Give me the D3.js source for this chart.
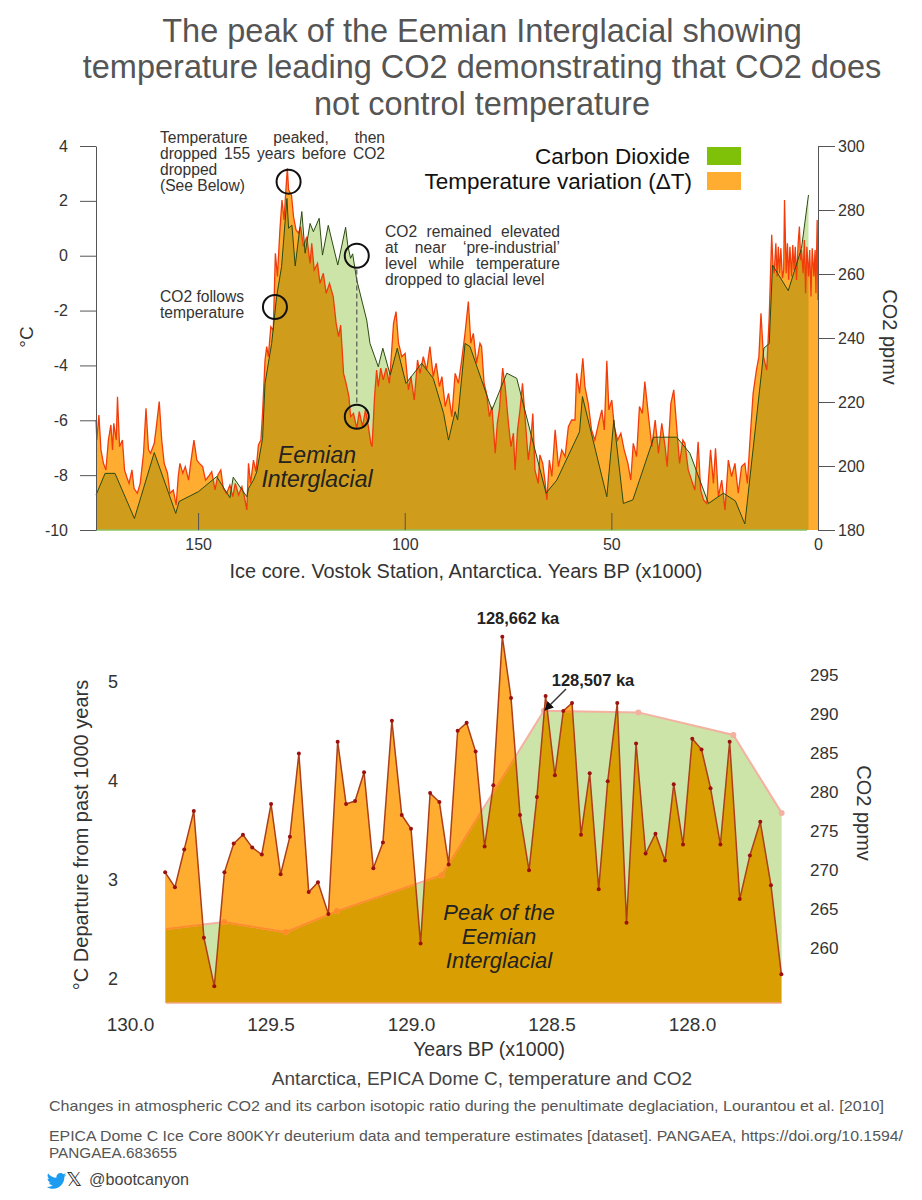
<!DOCTYPE html>
<html>
<head>
<meta charset="utf-8">
<script src="https://cdn.jsdelivr.net/npm/d3@7"></script>
<style>
  html, body { margin: 0; background: #fff; }
  svg { display: block; }
  text { font-family: "Liberation Sans", Arial, sans-serif; }
</style>
</head>
<body>
<svg id="chart" width="922" height="1200"></svg>
<script>
// Vostok panel
const vostokTempAge = [174.7,174.5,174.0,173.5,172.9,172.3,171.7,171.1,170.7,170.4,169.8,169.5,169.0,168.3,167.8,167.3,166.7,166.0,165.5,164.7,164.0,163.2,162.6,162.0,161.5,160.6,160.0,159.4,158.8,158.2,157.4,156.8,156.0,155.3,154.8,154.4,153.7,153.1,152.3,151.8,151.0,150.3,149.7,148.9,148.2,147.5,146.7,145.9,145.2,144.5,143.9,143.1,142.3,141.6,141.0,140.2,139.4,138.8,138.2,137.8,137.3,136.6,136.0,135.4,134.8,134.4,133.8,133.4,133.0,132.4,131.8,131.3,130.8,130.2,129.7,129.2,128.7,128.4,128.1,127.4,126.9,126.3,125.7,125.2,124.5,123.7,122.9,122.5,121.9,121.1,120.5,119.7,119.0,118.2,117.3,116.6,116.0,115.5,114.8,114.2,113.5,113.1,112.4,111.6,111.0,110.2,109.5,108.8,108.2,107.9,107.3,106.8,106.4,105.8,105.2,104.5,103.7,102.7,102.1,101.5,100.7,99.9,99.1,98.5,97.7,96.9,96.3,95.5,94.7,93.9,93.1,92.4,91.6,91.0,90.2,89.4,88.6,87.8,87.0,86.2,85.4,84.6,84.0,83.4,82.6,81.8,81.4,80.8,80.2,79.5,78.9,78.1,77.6,77.1,76.3,75.7,74.9,74.3,73.7,73.3,72.7,72.1,71.5,70.9,70.1,69.5,69.0,68.5,67.7,67.3,66.6,66.0,65.6,65.0,64.4,63.6,62.8,62.0,61.2,60.4,59.6,58.8,58.4,57.7,56.9,56.4,55.6,54.8,54.0,53.1,52.3,51.7,51.1,50.6,49.9,49.3,48.5,47.7,46.9,46.0,45.3,44.7,43.9,43.2,42.5,41.9,41.0,40.2,39.4,38.6,37.8,37.0,36.5,35.6,34.9,34.2,33.5,32.7,32.2,31.4,30.6,29.8,29.0,28.4,27.7,26.9,26.0,25.3,24.8,24.1,23.3,22.5,21.7,20.9,20.1,19.3,18.5,17.7,17.1,16.5,15.7,14.9,14.3,13.8,13.2,12.4,11.8,11.2,10.9,10.6,10.2,9.9,9.6,9.3,9.0,8.6,8.3,8.1,7.7,7.4,7.1,6.8,6.4,6.1,5.8,5.5,5.2,4.8,4.5,4.2,4.0,3.6,3.3,3.0,2.7,2.3,2.0,1.7,1.4,1.0,0.7,0.5,0.2,0];
const vostokTemp = [-5.99,-6.72,-5.81,-7.08,-7.57,-7.81,-6.72,-6.17,-7.08,-6.11,-6.72,-5.14,-6.96,-6.72,-7.81,-8.05,-8.30,-7.81,-8.48,-8.66,-8.30,-7.20,-5.56,-7.08,-7.20,-6.84,-6.11,-5.32,-6.72,-7.57,-7.93,-8.66,-8.54,-9.09,-8.05,-7.57,-7.93,-7.69,-8.18,-7.57,-6.72,-7.45,-7.57,-7.69,-8.18,-8.05,-7.87,-8.54,-7.99,-7.81,-8.48,-8.66,-8.36,-8.78,-8.30,-8.72,-8.42,-8.78,-9.27,-7.57,-8.30,-7.45,-7.87,-6.90,-6.72,-5.75,-3.80,-3.31,-3.68,-2.59,-2.71,0.09,-0.76,0.94,2.03,1.30,2.52,3.19,2.40,2.21,1.42,0.94,0.82,1.06,0.33,0.69,-0.28,0.45,-0.52,-0.28,-1.01,-0.64,-1.37,-1.01,-1.49,-2.46,-2.95,-2.53,-4.29,-4.65,-5.14,-5.87,-5.75,-6.29,-5.68,-6.23,-5.62,-6.23,-6.84,-6.96,-5.14,-4.17,-4.77,-4.10,-4.53,-4.10,-4.65,-2.46,-2.04,-3.19,-3.68,-3.56,-4.89,-4.41,-5.26,-3.80,-4.29,-3.68,-4.17,-3.31,-4.41,-3.92,-4.77,-4.41,-5.50,-5.02,-5.87,-4.29,-4.65,-3.80,-2.83,-1.67,-3.19,-2.83,-3.92,-3.19,-3.31,-4.65,-5.02,-5.87,-5.50,-7.20,-6.11,-5.62,-4.10,-4.77,-6.11,-6.96,-6.47,-7.81,-6.35,-5.62,-4.65,-5.87,-7.45,-6.72,-5.75,-7.81,-8.30,-7.26,-7.57,-8.30,-8.90,-7.45,-8.05,-6.35,-7.69,-7.08,-7.32,-6.23,-5.99,-5.99,-4.29,-5.02,-3.74,-4.77,-5.38,-6.35,-6.72,-6.11,-5.62,-6.35,-3.83,-5.62,-5.26,-6.23,-6.72,-6.47,-7.08,-7.57,-8.18,-6.84,-7.32,-5.50,-5.75,-4.59,-5.87,-6.96,-5.99,-7.20,-6.11,-6.96,-7.69,-5.38,-4.89,-6.23,-7.57,-6.72,-6.84,-7.81,-8.18,-8.54,-6.78,-8.54,-8.90,-9.03,-7.08,-8.30,-7.02,-8.78,-8.18,-9.27,-7.45,-8.05,-7.57,-8.66,-7.69,-7.57,-8.30,-6.84,-5.02,-4.17,-3.68,-2.10,-3.68,-4.17,-2.22,0.76,-0.34,-0.64,0.45,-0.76,0.33,-0.64,0.27,-0.82,-0.52,2.03,-0.64,0.45,-0.88,0.33,-0.76,0.39,-0.52,0.33,-0.88,0.45,1.06,-0.16,0.21,-0.64,0.57,-1.37,0.33,-0.76,0.21,-1.49,0.27,-0.76,0.21,-1.37,1.30,-1.61];
const vostokCo2Age = [174.7,172.5,170.1,165.4,160.6,155.4,154.6,149.9,145.5,142.3,141.5,138.2,137.8,136.6,135.8,134.4,133.8,132.2,131.0,129.8,128.5,128.1,127.3,126.5,124.9,124.1,122.9,122.1,120.7,119.9,118.5,116.2,114.3,113.8,113.1,112.6,111.6,109.2,108.4,106.4,105.3,103.5,101.8,99.7,95.9,93.1,90.6,89.4,87.8,87.2,85.4,84.2,78.9,75.3,72.9,69.3,65.8,63.2,57.7,57.0,51.1,49.4,47.1,44.8,40.2,39.8,34.2,31.0,26.5,22.9,20.0,17.7,13.6,13.1,11.8,11.0,7.2,4.0,2.3];
const vostokCo2 = [190.9,197.7,197.7,183.6,204.2,185.2,188.9,192.0,196.7,190.1,196.5,190.4,193.0,195.6,198.2,208.6,225.8,238.3,252.9,262.3,283.6,274.3,275.3,262.5,279.5,266.5,275.8,273.2,277.4,265.9,275.2,262.8,274.6,269.1,264.9,266.3,258.1,245.6,238.3,231.0,236.8,228.4,236.8,225.8,232.1,227.4,216.5,208.1,217.0,214.4,238.3,237.3,217.5,229.0,227.4,209.2,191.5,195.6,210.7,221.7,190.4,214.4,188.3,189.4,207.1,209.0,209.0,204.0,188.3,191.5,189.1,181.9,230.0,236.8,238.3,262.8,254.8,268.0,284.7];
const vostokTempTicks = [4, 2, 0, -2, -4, -6, -8, -10];
const vostokCo2Ticks = [300, 280, 260, 240, 220, 200, 180];
const vostokAgeTicks = [150, 100, 50, 0];

// EPICA panel
const domeTempAge = [129.875,129.840,129.807,129.773,129.737,129.700,129.664,129.631,129.598,129.565,129.531,129.498,129.464,129.431,129.399,129.364,129.331,129.294,129.261,129.231,129.199,129.167,129.134,129.100,129.068,129.033,129.000,128.966,128.932,128.899,128.866,128.834,128.802,128.770,128.738,128.707,128.675,128.644,128.612,128.580,128.552,128.521,128.488,128.458,128.427,128.395,128.364,128.332,128.300,128.266,128.233,128.199,128.165,128.130,128.096,128.065,128.032,127.999,127.966,127.934,127.899,127.866,127.830,127.794,127.757,127.719,127.682];
const domeTemp = [3.07,2.92,3.30,3.69,2.41,1.92,3.07,3.36,3.45,3.32,3.25,3.76,3.05,3.43,4.27,2.87,2.97,2.65,4.39,3.76,3.79,4.08,3.11,3.37,4.60,3.65,3.51,2.35,3.87,3.78,3.15,4.50,4.58,4.29,3.33,3.95,5.45,4.83,3.65,3.09,3.83,4.85,4.05,4.70,4.78,3.45,4.07,2.90,3.99,4.78,2.56,4.37,3.26,3.46,3.19,3.96,3.35,4.42,4.31,3.92,3.35,4.39,2.80,3.24,3.58,2.94,2.04];
const domeCo2Age = [129.872,129.665,129.446,129.264,128.891,128.527,128.191,127.853,127.681];
const domeCo2 = [262.4,263.3,262.0,264.7,269.3,290.4,290.2,287.3,277.3];
const domeTempTicks = [5, 4, 3, 2];
const domeCo2Ticks = [295, 290, 285, 280, 275, 270, 265, 260];
const domeAgeTicks = [130, 129.5, 129, 128.5, 128];

const titleLines = [
  "The peak of the Eemian Interglacial showing",
  "temperature leading CO2 demonstrating that CO2 does",
  "not control temperature"
];

const ORANGE = "#ffad30", PALE_GREEN = "#cde4a8";

const svg = d3.select("#chart");
const defs = svg.append("defs");

const zip = (xs, ys) => xs.map((x, i) => [x, ys[i]]);

const put = (parent, s, x, y, {size = 16, fill = "#333", anchor = "start", weight = null, style = null, rotate = 0} = {}) =>
  parent.append("text")
    .attr("transform", `translate(${x},${y})` + (rotate ? ` rotate(${rotate})` : ""))
    .attr("font-size", size)
    .attr("fill", fill)
    .attr("text-anchor", anchor)
    .attr("font-weight", weight)
    .attr("font-style", style)
    .text(s);

// stretch the word gaps so the line fills the width, like the justified notes
const justify = (sel, width) => {
  const node = sel.node();
  const gaps = sel.text().split(" ").length - 1;
  if (gaps) sel.attr("word-spacing", (width - node.getComputedTextLength()) / gaps);
};

// the footer type is narrower than anything installed
const squeeze = (sel, width) => sel.attr("textLength", width).attr("lengthAdjust", "spacingAndGlyphs");

const styleAxis = (g, size) => {
  g.selectAll("text").attr("font-size", size).attr("fill", "#333").attr("font-family", null);
  g.selectAll("line,path").attr("stroke", "#555");
};

// both panels: green area, orange area, then the overlap in the darker mix
function overlapAreas(g, id, temp, co2, x, yT, yC, overlapFill) {
  const areaT = d3.area().x((d) => x(d[0])).y0(yT.range()[0]).y1((d) => yT(d[1]));
  const areaC = d3.area().x((d) => x(d[0])).y0(yC.range()[0]).y1((d) => yC(d[1]));
  defs.append("clipPath").attr("id", id + "-co2").append("path").attr("d", areaC(co2));
  defs.append("clipPath").attr("id", id + "-temp").append("path").attr("d", areaT(temp));
  g.append("path").attr("d", areaC(co2)).attr("fill", PALE_GREEN);
  g.append("path").attr("d", areaT(temp)).attr("fill", ORANGE);
  g.append("path").attr("d", areaT(temp)).attr("fill", overlapFill).attr("clip-path", `url(#${id}-co2)`);
}

// ---------- title
titleLines.forEach((s, i) => put(svg, s, 482, [42, 78, 115][i], {size: 32.5, fill: "#555", anchor: "middle"}));

// ---------- Vostok panel
{
  const x = d3.scaleLinear().domain([174.7, 0]).range([96, 818]);
  const yT = d3.scaleLinear().domain([-10, 4]).range([530, 146]);
  const yC = d3.scaleLinear().domain([180, 300]).range([530, 146]);
  const temp = zip(vostokTempAge, vostokTemp);
  const co2 = zip(vostokCo2Age, vostokCo2);
  const g = svg.append("g");

  overlapAreas(g, "vostok", temp, co2, x, yT, yC, "#cf9c1c");

  g.append("line").attr("x1", 96).attr("x2", 807).attr("y1", 530).attr("y2", 530).attr("stroke", "#8cc060").attr("stroke-width", 1.5);
  g.append("path").attr("d", d3.line().x((d) => x(d[0])).y((d) => yT(d[1]))(temp))
    .attr("fill", "none").attr("stroke", "#f23c0c").attr("stroke-width", 1.3);
  g.append("path").attr("d", d3.line().x((d) => x(d[0])).y((d) => yC(d[1]))(co2))
    .attr("fill", "none").attr("stroke", "#2c4a12").attr("stroke-width", 1);

  g.append("g").attr("transform", "translate(96,0)")
    .call(d3.axisLeft(yT).tickValues(vostokTempTicks).tickFormat(String).tickSizeInner(16).tickSizeOuter(0).tickPadding(12))
    .call(styleAxis, 16);
  g.append("g").attr("transform", "translate(818,0)")
    .call(d3.axisRight(yC).tickValues(vostokCo2Ticks).tickFormat(String).tickSizeInner(17).tickSizeOuter(0).tickPadding(3))
    .call(styleAxis, 16);
  g.append("g").attr("transform", "translate(0,530)")
    .call(d3.axisBottom(x).tickValues(vostokAgeTicks).tickFormat(String).tickSizeInner(-17).tickSizeOuter(0).tickPadding(9))
    .call(styleAxis, 16)
    .call((a) => a.select(".domain").remove());

  // circled spots and the dashed drop
  [[128.1, 2.7], [131.4, -1.87], [111.6, 0], [111.6, -5.87]].forEach(([a, t]) =>
    g.append("circle").attr("cx", x(a)).attr("cy", yT(t)).attr("r", 12)
      .attr("fill", "none").attr("stroke", "#111").attr("stroke-width", 2));
  g.append("line").attr("x1", x(111.6)).attr("x2", x(111.6)).attr("y1", yT(-0.5)).attr("y2", yT(-5.4))
    .attr("stroke", "#555").attr("stroke-width", 1.2).attr("stroke-dasharray", "5 3");

  // notes
  const note = {size: 15.6, fill: "#333"};
  justify(put(g, "Temperature peaked, then", 160, 143, note), 225);
  justify(put(g, "dropped 155 years before CO2", 160, 159, note), 225);
  put(g, "dropped", 160, 175, note);
  put(g, "(See Below)", 160, 191, note);
  put(g, "CO2 follows", 160, 302, note);
  put(g, "temperature", 160, 318, note);
  justify(put(g, "CO2 remained elevated", 385, 237, note), 175);
  justify(put(g, "at near ‘pre-industrial’", 385, 253, note), 175);
  justify(put(g, "level while temperature", 385, 269, note), 175);
  put(g, "dropped to glacial level", 385, 285, note);

  put(g, "Eemian", 317, 463, {size: 23, fill: "#222", anchor: "middle", style: "italic"});
  put(g, "Interglacial", 317, 487, {size: 23, fill: "#222", anchor: "middle", style: "italic"});

  // legend
  put(g, "Carbon Dioxide", 690, 164, {size: 22.5, fill: "#111", anchor: "end"});
  put(g, "Temperature variation (ΔT)", 692, 189, {size: 22.5, fill: "#111", anchor: "end"});
  g.append("rect").attr("x", 707).attr("y", 147).attr("width", 34).attr("height", 18).attr("fill", "#7fc008");
  g.append("rect").attr("x", 707).attr("y", 172).attr("width", 34).attr("height", 18).attr("fill", ORANGE);

  put(g, "°C", 33, 337, {size: 19, anchor: "middle", rotate: -90});
  put(g, "CO2 ppmv", 883, 337, {size: 20, anchor: "middle", rotate: 90});
  put(g, "Ice core. Vostok Station, Antarctica. Years BP (x1000)", 466, 578, {size: 19.9, anchor: "middle"});
}

// ---------- EPICA panel
{
  const x = d3.scaleLinear().domain([130, 128]).range([130, 692]);
  const yT = d3.scaleLinear().domain([1.75, 5]).range([1003, 681.25]);
  const yC = d3.scaleLinear().domain([252.9, 295]).range([1003, 675]);
  const temp = zip(domeTempAge, domeTemp);
  const co2 = zip(domeCo2Age, domeCo2);
  const g = svg.append("g");

  overlapAreas(g, "dome", temp, co2, x, yT, yC, "#d99e02");

  g.append("line").attr("x1", x(129.872)).attr("x2", x(127.681)).attr("y1", 1003).attr("y2", 1003)
    .attr("stroke", "#f2a98e").attr("stroke-width", 1.5);

  // CO2 line: pink over the green, orange where it crosses the temperature area
  const co2Line = d3.line().x((d) => x(d[0])).y((d) => yC(d[1]))(co2);
  const co2Marks = (parent, color) => {
    parent.append("path").attr("d", co2Line).attr("fill", "none").attr("stroke", color).attr("stroke-width", 2);
    parent.selectAll("circle").data(co2.slice(1)).join("circle")
      .attr("cx", (d) => x(d[0])).attr("cy", (d) => yC(d[1])).attr("r", 3).attr("fill", color);
  };
  co2Marks(g.append("g"), "#f4b1a0");
  co2Marks(g.append("g").attr("clip-path", "url(#dome-temp)"), "#ff8c24");

  g.append("path").attr("d", d3.line().x((d) => x(d[0])).y((d) => yT(d[1]))(temp))
    .attr("fill", "none").attr("stroke", "#ad3f1a").attr("stroke-width", 1.5);
  g.selectAll(".pt").data(temp).join("circle").attr("class", "pt")
    .attr("cx", (d) => x(d[0])).attr("cy", (d) => yT(d[1])).attr("r", 2).attr("fill", "#9c1010");

  g.append("g").attr("transform", "translate(118,0)")
    .call(d3.axisLeft(yT).tickValues(domeTempTicks).tickFormat(String).tickSize(0).tickPadding(0))
    .call(styleAxis, 18)
    .call((a) => a.select(".domain").remove());
  g.append("g").attr("transform", "translate(810,0)")
    .call(d3.axisRight(yC).tickValues(domeCo2Ticks).tickFormat(String).tickSize(0).tickPadding(0))
    .call(styleAxis, 17)
    .call((a) => a.select(".domain").remove());
  g.append("g").attr("transform", "translate(0,1003)")
    .call(d3.axisBottom(x).tickValues(domeAgeTicks).tickFormat(d3.format(".1f")).tickSize(0).tickPadding(15))
    .call(styleAxis, 19)
    .call((a) => a.select(".domain").remove());

  put(g, "128,662 ka", 518, 624, {size: 16.5, fill: "#222", anchor: "middle", weight: "bold"});
  put(g, "128,507 ka", 593, 686, {size: 16.5, fill: "#222", anchor: "middle", weight: "bold"});
  defs.append("marker").attr("id", "tip").attr("viewBox", "0 0 10 10").attr("refX", 9).attr("refY", 5)
    .attr("markerWidth", 6).attr("markerHeight", 6).attr("orient", "auto")
    .append("path").attr("d", "M0,0L10,5L0,10Z").attr("fill", "#111");
  g.append("line").attr("x1", 566).attr("y1", 689).attr("x2", 545).attr("y2", 710)
    .attr("stroke", "#333").attr("stroke-width", 1.5).attr("marker-end", "url(#tip)");

  ["Peak of the", "Eemian", "Interglacial"].forEach((s, i) =>
    put(g, s, 499, 920 + i * 24, {size: 22, fill: "#222", anchor: "middle", style: "italic"}));

  put(g, "°C Departure from past 1000 years", 88, 835, {size: 20, anchor: "middle", rotate: -90});
  put(g, "CO2 ppmv", 857, 813, {size: 20, anchor: "middle", rotate: 90});
  put(g, "Years BP (x1000)", 489, 1056, {size: 19.5, anchor: "middle"});
}

// ---------- footer
put(svg, "Antarctica, EPICA Dome C, temperature and CO2", 482, 1085, {size: 19, anchor: "middle", fill: "#444"});
squeeze(put(svg, "Changes in atmospheric CO2 and its carbon isotopic ratio during the penultimate deglaciation, Lourantou et al. [2010]", 49, 1111, {size: 15, fill: "#555"}), 835);
squeeze(put(svg, "EPICA Dome C Ice Core 800KYr deuterium data and temperature estimates [dataset]. PANGAEA, https://doi.org/10.1594/", 49, 1141, {size: 15, fill: "#555"}), 854);
squeeze(put(svg, "PANGAEA.683655", 49, 1158, {size: 15, fill: "#555"}), 128);
put(svg, "𝕏", 66, 1186, {size: 20, fill: "#333"}).style("font-family", "DejaVu Sans");
squeeze(put(svg, "@bootcanyon", 89, 1185, {size: 17, fill: "#444"}), 100);
// bird icon
svg.append("path").attr("fill", "#1d9bf0").attr("transform", "translate(47,1171) scale(0.82)")
  .attr("d", "M23.6 4.6c-.9.4-1.8.7-2.8.8 1-.6 1.8-1.6 2.2-2.7-1 .6-2 1-3.1 1.2C18.9 2.9 17.6 2.3 16.3 2.3c-2.7 0-4.9 2.2-4.9 4.9 0 .4 0 .8.1 1.1C7.4 8.1 3.8 6.1 1.4 3.1.9 3.9.7 4.7.7 5.6c0 1.7.9 3.2 2.2 4.1-.8 0-1.6-.2-2.2-.6v.1c0 2.4 1.7 4.4 3.9 4.8-.4.1-.8.2-1.3.2-.3 0-.6 0-.9-.1.6 2 2.4 3.4 4.6 3.4-1.7 1.3-3.8 2.1-6.1 2.1-.4 0-.8 0-1.2-.1 2.2 1.4 4.8 2.2 7.5 2.2 9.1 0 14-7.5 14-14v-.6c1-.7 1.8-1.6 2.4-2.5z");
</script>
</body>
</html>
